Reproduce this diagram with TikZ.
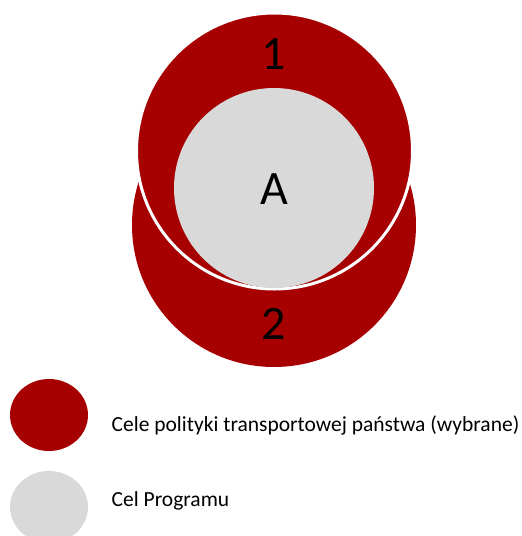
\documentclass[tikz,border=0pt]{standalone}
\usepackage{fontspec}
\setmainfont{Carlito}
\usetikzlibrary{shapes.geometric}
\definecolor{goalred}{RGB}{166,0,0}
\definecolor{goalgray}{RGB}{217,217,217}
\tikzset{
  disc/.style={circle, inner sep=0pt, outer sep=0pt},
  bignum/.style={font=\fontsize{48}{48}\selectfont, text=black, inner sep=0pt, anchor=base},
  legendtxt/.style={font=\fontsize{21.5}{21.5}\selectfont, text=black, inner sep=0pt, anchor=base west},
  legendmark/.style={ellipse, inner sep=0pt, outer sep=0pt, minimum width=78pt, minimum height=72pt}
}
\begin{document}
\begin{tikzpicture}[x=1pt, y=-1pt]
  \useasboundingbox (0,0) rectangle (522,536);
  \clip (0,0) rectangle (522,536);
  % lower circle (goal 2)
  \node[disc, fill=goalred, minimum size=284pt] (c2) at (274,225) {};
  % upper circle (goal 1), separated by a white rim
  \node[disc, fill=goalred, draw=white, line width=3pt, minimum size=276pt] (c1) at (274.5,151) {};
  % programme goal
  \node[disc, fill=goalgray, minimum size=200pt] (cA) at (274,188) {};
  % labels
  \node[bignum] (n1) at (274,69) {1};
  \node[bignum] (nA) at (274,204) {A};
  \node[bignum] (n2) at (274,339) {2};
  % legend
  \node[legendmark, fill=goalred] (k1) at (49,415) {};
  \node[legendmark, fill=goalgray] (k2) at (49,507) {};
  \node[legendtxt] (t1) at (111.5,431) {Cele polityki transportowej państwa (wybrane)};
  \node[legendtxt] (t2) at (111.5,506) {Cel Programu};
\end{tikzpicture}
\end{document}
